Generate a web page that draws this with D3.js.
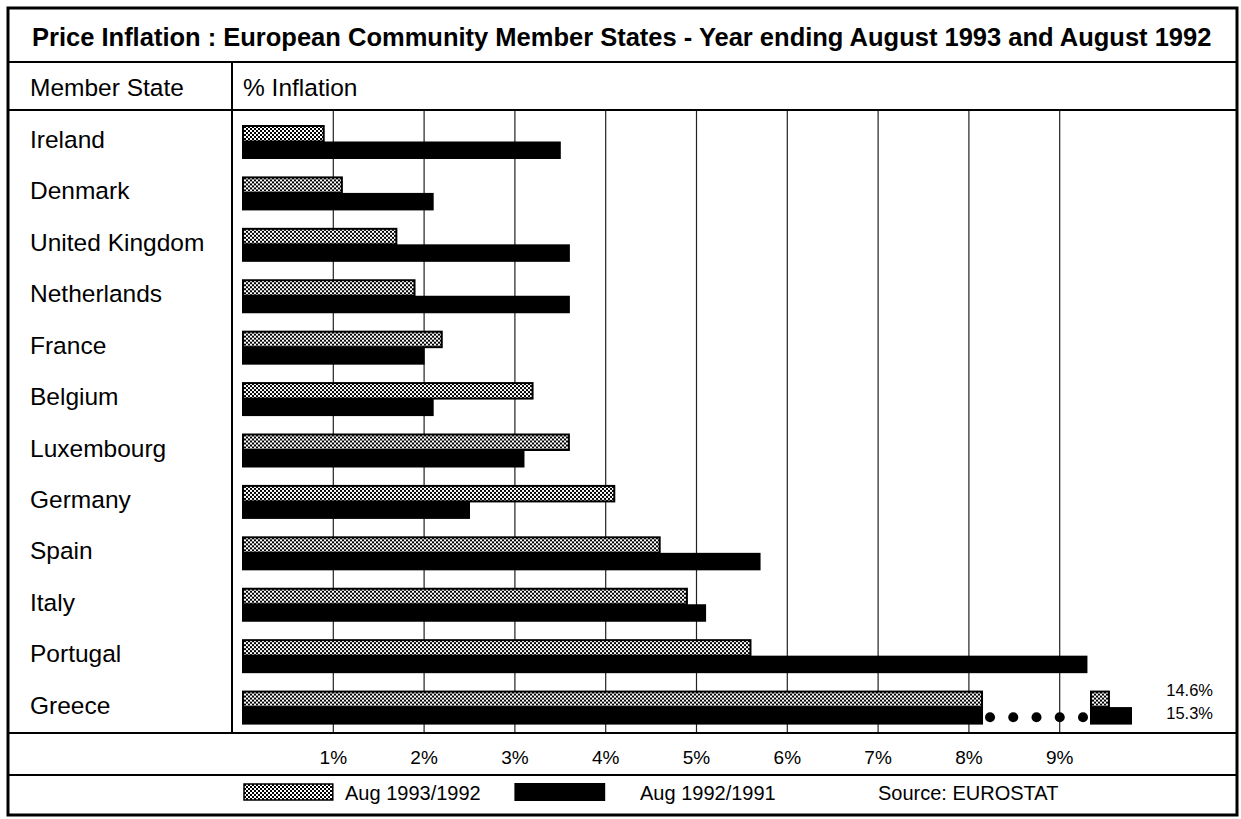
<!DOCTYPE html>
<html>
<head>
<meta charset="utf-8">
<script src="https://cdn.jsdelivr.net/npm/d3@7"></script>
<style>
  body { margin: 0; background: #fff; }
  text { font-family: "Liberation Sans", Arial, Helvetica, sans-serif; fill: #000; }
</style>
</head>
<body>
<div id="chart"></div>
<script>
// Data
const states = ["Ireland", "Denmark", "United Kingdom", "Netherlands", "France", "Belgium",
    "Luxembourg", "Germany", "Spain", "Italy", "Portugal", "Greece"];
const series = ["Aug 1993/1992", "Aug 1992/1991"];
const infl1993 = [0.9, 1.1, 1.7, 1.9, 2.2, 3.2, 3.6, 4.1, 4.6, 4.9, 5.6, 14.6];
const infl1992 = [3.5, 2.1, 3.6, 3.6, 2.0, 2.1, 3.1, 2.5, 5.7, 5.1, 9.3, 15.3];
const ticks = [1, 2, 3, 4, 5, 6, 7, 8, 9];
const title = "Price Inflation : European Community Member States - Year ending August 1993 and August 1992";
const source = "Source: EUROSTAT";

// axis break for the off-scale values (Greece)
const axisMax = 10;
const breakAt = 8.15;
const resumeAt = 14;

const width = 1241, height = 819;
const frame = { left: 8, right: 1237, top: 8, bottom: 815 };
const rowTitle = 62, rowHeader = 110, rowPlot = 733, rowAxis = 775;
const divider = 232;

const svg = d3.select("#chart")
    .append("svg")
    .attr("width", width)
    .attr("height", height);

// stippled fill
const defs = svg.append("defs");
const pat = defs.append("pattern")
    .attr("id", "stipple")
    .attr("patternUnits", "userSpaceOnUse")
    .attr("width", 4)
    .attr("height", 4);
pat.append("rect").attr("width", 4).attr("height", 4).attr("fill", "#fff");
pat.append("rect").attr("width", 2).attr("height", 2).attr("fill", "#000");
pat.append("rect").attr("x", 2).attr("y", 2).attr("width", 2).attr("height", 2).attr("fill", "#000");

// Scales
const xScale = d3.scaleLinear().domain([0, axisMax]).range([242, 1150]);
const xResume = d3.scaleLinear().domain([resumeAt, 15.3]).range([1090, 1131]);
const yScale = d3.scaleBand().domain(states).range([110, 727]);
const ySub = d3.scaleBand().domain(series).range([15, 48]);

// Gridlines
const grid = d3.axisBottom(xScale).tickValues(ticks).tickSize(rowPlot - rowHeader).tickFormat("");
svg.append("g")
    .attr("transform", `translate(0,${rowHeader})`)
    .call(grid)
    .call(g => g.select(".domain").remove())
    .call(g => g.selectAll("line").attr("stroke", "#222").attr("stroke-width", 1.2));

// Tick labels
const xAxis = d3.axisBottom(xScale).tickValues(ticks).tickSize(0).tickPadding(0).tickFormat(d => d + "%");
svg.append("g")
    .attr("transform", `translate(0,${rowPlot + 31})`)
    .call(xAxis)
    .call(g => g.select(".domain").remove())
    .call(g => g.selectAll("text")
        .attr("dy", 0)
        .style("font-size", "19px")
        .style("font-family", "\"Liberation Sans\", Arial, sans-serif")
        .attr("fill", "#000"));

// Rows
const rows = svg.append("g").selectAll("g")
    .data(states.map((s, i) => ({ state: s, v1: infl1993[i], v2: infl1992[i] })))
    .join("g")
    .attr("transform", d => `translate(0,${yScale(d.state)})`);

rows.append("text")
    .attr("x", 30)
    .attr("y", 38)
    .style("font-size", "24.5px")
    .text(d => d.state);

function drawBar(g, d, key, value) {
    const y = ySub(key), h = ySub.bandwidth();
    const hatched = key === series[0];
    const fill = hatched ? "url(#stipple)" : "#000";
    const broken = value > axisMax;
    const segs = broken
        ? [[xScale(0), xScale(breakAt)], [xResume(resumeAt), xResume(value)]]
        : [[xScale(0), xScale(value)]];
    segs.forEach(([a, b]) => {
        g.append("rect")
            .attr("x", a + 1)
            .attr("y", y + 1)
            .attr("width", b - a - 1)
            .attr("height", h - 1)
            .attr("fill", fill)
            .attr("stroke", "#000")
            .attr("stroke-width", 2);
    });
    if (broken) {
        if (!hatched) {
            // dotted gap standing in for the broken part of the bar
            const x0 = xScale(breakAt) + 8, x1 = xResume(resumeAt) - 7;
            g.selectAll(null)
                .data(d3.range(5))
                .join("circle")
                .attr("cx", i => x0 + i * (x1 - x0) / 4)
                .attr("cy", y + h / 2 + 2)
                .attr("r", 5)
                .attr("fill", "#000");
        }
        g.append("text")
            .attr("x", 1213)
            .attr("y", y + h / 2 + (hatched ? -3 : 4))
            .attr("text-anchor", "end")
            .style("font-size", "16.5px")
            .text(value.toFixed(1) + "%");
    }
}

rows.each(function (d) {
    const g = d3.select(this);
    drawBar(g, d, series[0], d.v1);
    drawBar(g, d, series[1], d.v2);
});

// Frame and table lines
const lines = svg.append("g").attr("stroke", "#000").attr("fill", "none");
[rowTitle, rowHeader, rowPlot, rowAxis].forEach(y => {
    lines.append("line")
        .attr("x1", frame.left).attr("x2", frame.right)
        .attr("y1", y).attr("y2", y)
        .attr("stroke-width", 2);
});
lines.append("line")
    .attr("x1", divider).attr("x2", divider)
    .attr("y1", rowTitle).attr("y2", rowPlot)
    .attr("stroke-width", 2);
lines.append("rect")
    .attr("x", frame.left).attr("y", frame.top)
    .attr("width", frame.right - frame.left)
    .attr("height", frame.bottom - frame.top)
    .attr("stroke-width", 3);

// Title and headers
svg.append("text")
    .attr("x", 32)
    .attr("y", 46)
    .style("font-size", "25.5px")
    .style("font-weight", "bold")
    .text(title);

svg.append("text")
    .attr("x", 30)
    .attr("y", 96)
    .style("font-size", "24.5px")
    .text("Member State");

svg.append("text")
    .attr("x", 243)
    .attr("y", 96)
    .style("font-size", "24.5px")
    .text("% Inflation");

// Legend
const legend = svg.append("g");
legend.append("rect")
    .attr("x", xScale(0) + 2).attr("y", 784)
    .attr("width", xScale(1) - xScale(0) - 2).attr("height", 16)
    .attr("fill", "url(#stipple)").attr("stroke", "#000").attr("stroke-width", 1.5);
legend.append("text")
    .attr("x", 345).attr("y", 800)
    .style("font-size", "20px")
    .text(series[0]);
legend.append("rect")
    .attr("x", xScale(3)).attr("y", 783)
    .attr("width", xScale(4) - xScale(3)).attr("height", 18)
    .attr("fill", "#000");
legend.append("text")
    .attr("x", 640).attr("y", 800)
    .style("font-size", "20px")
    .text(series[1]);
legend.append("text")
    .attr("x", 878).attr("y", 800)
    .style("font-size", "20px")
    .text(source);
</script>
</body>
</html>
